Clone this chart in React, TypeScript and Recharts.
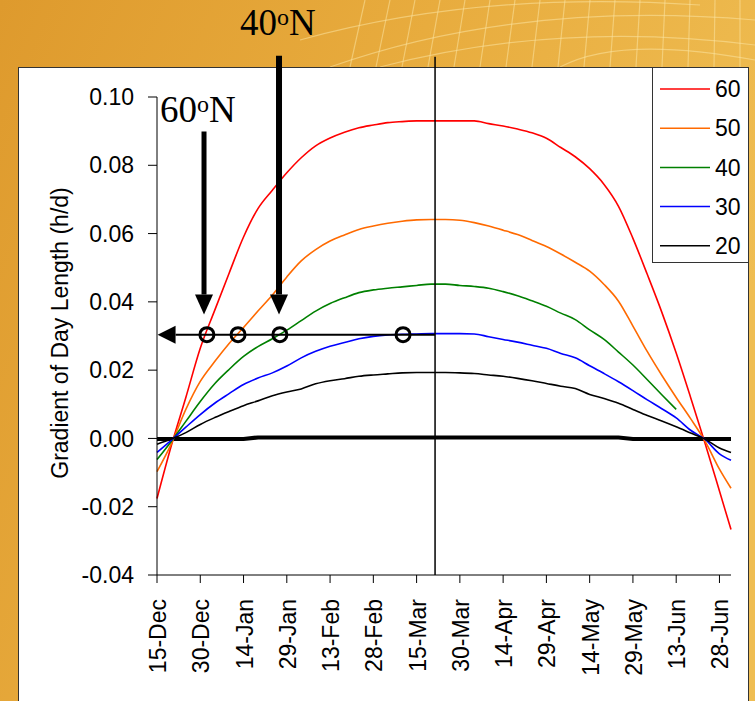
import React from 'react';
import { LineChart, Line, XAxis, YAxis, ReferenceLine, ReferenceDot } from 'recharts';

// days after 15-Dec
const days = [0, 5, 10, 15, 20, 25, 30, 35, 40, 45, 50, 55, 60, 65, 70, 75, 80, 85, 90, 95, 100,
  105, 110, 115, 120, 125, 130, 135, 140, 145, 150, 155, 160, 165, 170, 175, 180, 185, 190, 195, 199];

const tickDays = [0, 15, 30, 45, 60, 75, 90, 105, 120, 135, 150, 165, 180, 195];
const tickLabels = ['15-Dec', '30-Dec', '14-Jan', '29-Jan', '13-Feb', '28-Feb', '15-Mar', '30-Mar',
  '14-Apr', '29-Apr', '14-May', '29-May', '13-Jun', '28-Jun'];
const yTicks = [-0.04, -0.02, 0, 0.02, 0.04, 0.06, 0.08, 0.1];

const lat60 = [-0.0176, -0.002, 0.012, 0.0264, 0.0375, 0.0484, 0.059, 0.0673, 0.0727, 0.0778, 0.0822,
  0.0857, 0.088, 0.0897, 0.091, 0.0918, 0.0925, 0.0928, 0.093, 0.093, 0.093, 0.093, 0.093, 0.0922,
  0.0915, 0.0906, 0.0895, 0.0879, 0.0852, 0.0825, 0.079, 0.0744, 0.068, 0.0586, 0.048, 0.037, 0.025,
  0.012, -0.0014, -0.0154, -0.0267];
const lat50 = [-0.0097, -0.0015, 0.0085, 0.0167, 0.0225, 0.0278, 0.0325, 0.0373, 0.042, 0.0473, 0.052,
  0.0553, 0.0578, 0.0596, 0.0612, 0.0622, 0.063, 0.0636, 0.064, 0.0641, 0.0641, 0.0639, 0.0632, 0.0622,
  0.061, 0.0597, 0.058, 0.0562, 0.054, 0.0516, 0.049, 0.0451, 0.0402, 0.0329, 0.0254, 0.0185, 0.012,
  0.0058, -0.0008, -0.009, -0.0146];
const lat40 = [-0.0062, -0.0008, 0.005, 0.0108, 0.016, 0.0202, 0.024, 0.0269, 0.0292, 0.0317, 0.0345,
  0.0373, 0.0395, 0.0412, 0.0427, 0.0435, 0.044, 0.0444, 0.0448, 0.0452, 0.0452, 0.0448, 0.0445, 0.044,
  0.043, 0.0418, 0.0403, 0.0387, 0.0367, 0.0348, 0.0318, 0.029, 0.0253, 0.0215, 0.0172, 0.0128, 0.0085,
  null, null, null, null];
const lat30 = [-0.0041, -0.0005, 0.0033, 0.007, 0.0103, 0.0131, 0.0158, 0.0177, 0.0192, 0.0212, 0.0236,
  0.0255, 0.027, 0.0281, 0.0292, 0.0299, 0.0303, 0.0305, 0.0306, 0.0307, 0.0307, 0.0307, 0.0306, 0.0298,
  0.029, 0.0282, 0.0273, 0.0264, 0.0249, 0.0236, 0.0213, 0.019, 0.0166, 0.014, 0.0113, 0.0087, 0.006,
  0.0024, -0.0003, -0.0045, -0.0064];
const lat20 = [-0.0017, -0.0002, 0.0017, 0.0041, 0.0061, 0.0079, 0.0096, 0.011, 0.0125, 0.0136, 0.0145,
  0.016, 0.0169, 0.0175, 0.0182, 0.0186, 0.0189, 0.0192, 0.0193, 0.0193, 0.0193, 0.0192, 0.019, 0.0186,
  0.0182, 0.0176, 0.0169, 0.0161, 0.0153, 0.0146, 0.0129, 0.0117, 0.0103, 0.0085, 0.0067, 0.0051, 0.0034,
  0.0016, -0.0002, -0.0028, -0.0041];
const lat0 = [-0.0002, -0.0002, -0.0002, -0.0002, -0.0002, -0.0002, -0.0002, 0.0003, 0.0003, 0.0003,
  0.0003, 0.0003, 0.0003, 0.0003, 0.0003, 0.0003, 0.0003, 0.0003, 0.0003, 0.0003, 0.0003, 0.0003, 0.0003,
  0.0003, 0.0003, 0.0003, 0.0003, 0.0003, 0.0003, 0.0003, 0.0003, 0.0003, 0.0003, -0.0002, -0.0002,
  -0.0002, -0.0002, -0.0002, -0.0002, -0.0002, -0.0002];

const series = [
  { key: 'l60', name: '60', color: '#ff0000', values: lat60 },
  { key: 'l50', name: '50', color: '#ff6a00', values: lat50 },
  { key: 'l40', name: '40', color: '#008000', values: lat40 },
  { key: 'l30', name: '30', color: '#0000ff', values: lat30 },
  { key: 'l20', name: '20', color: '#000000', values: lat20 },
];

// crossings of the 0.03 h/d line (day numbers)
const circleDays = [17.3, 28.1, 42.6, 85.3];

const data = days.map((d, i) => {
  const row: any = { day: d, l0: lat0[i] };
  series.forEach(s => { row[s.key] = s.values[i]; });
  return row;
});

const font = '"Liberation Sans", Arial, sans-serif';
const serif = '"Liberation Serif", "Times New Roman", serif';

const arrowShape = (w: number, head: number, half: number) => (p: any) => {
  const { x1, y1, x2, y2 } = p;
  const dx = x2 - x1, dy = y2 - y1;
  const len = Math.hypot(dx, dy) || 1;
  const ux = dx / len, uy = dy / len;
  const bx = x2 - ux * head, by = y2 - uy * head;
  const nx = -uy, ny = ux;
  return (
    <g>
      <line x1={x1} y1={y1} x2={bx} y2={by} stroke="#000" strokeWidth={w} />
      <polygon
        points={`${x2},${y2} ${bx + nx * half},${by + ny * half} ${bx - nx * half},${by - ny * half}`}
        fill="#000"
      />
    </g>
  );
};

const DateTick = (props: any) => {
  const { x, y, payload } = props;
  const idx = tickDays.indexOf(payload.value);
  return (
    <text
      x={x + 9}
      y={y + 14}
      transform={`rotate(-90 ${x + 9} ${y + 14})`}
      textAnchor="end"
      fontFamily={font}
      fontSize={23}
      fill="#000"
    >
      {tickLabels[idx]}
    </text>
  );
};

const Background = () => (
  <svg width={755} height={701} style={{ position: 'absolute', left: 0, top: 0 }}>
    <defs>
      <linearGradient id="bg" x1="0" y1="0" x2="1" y2="0.4">
        <stop offset="0" stopColor="#de9a2d" />
        <stop offset="0.5" stopColor="#e8ac3e" />
        <stop offset="1" stopColor="#efbd52" />
      </linearGradient>
    </defs>
    <rect x={0} y={0} width={755} height={701} fill="url(#bg)" />
    <g stroke="#fbe3a0" strokeOpacity={0.55} strokeWidth={1.2} fill="none">
      {[0, 1, 2, 3, 4, 5, 6, 7, 8, 9, 10, 11, 12, 13, 14, 15].map(i => (
        <path key={'v' + i} d={`M ${350 + i * 26} 67 L ${365 + i * 25} 0`} />
      ))}
      <path d="M 330 67 Q 520 0 755 20" />
      <path d="M 380 67 Q 560 20 755 45" />
      <path d="M 300 40 Q 480 -10 700 5" />
      <path d="M 560 67 Q 620 35 755 60" />
    </g>
    <rect x={18.5} y={67.5} width={730} height={640} fill="#fff" stroke="#333" strokeWidth={1} />
  </svg>
);

const LegendBox = () => (
  <svg width={755} height={701} style={{ position: 'absolute', left: 0, top: 0, pointerEvents: 'none' }}>
    <rect x={652.5} y={67.5} width={96} height={195} fill="#fff" stroke="#333" strokeWidth={1} />
    {series.map((s, i) => (
      <g key={s.key}>
        <line x1={660} x2={710} y1={89 + i * 39.2} y2={89 + i * 39.2} stroke={s.color} strokeWidth={1.5} />
        <text x={715} y={89 + i * 39.2} dy="0.36em" fontFamily={font} fontSize={23} fill="#000">
          {s.name}
        </text>
      </g>
    ))}
    <text x={160} y={122} fontFamily={serif} fontSize={37} fill="#000">
      60<tspan fontSize={24} dy={-10}>o</tspan><tspan dy={10}>N</tspan>
    </text>
    <text x={240} y={35} fontFamily={serif} fontSize={37} fill="#000">
      40<tspan fontSize={24} dy={-10}>o</tspan><tspan dy={10}>N</tspan>
    </text>
    <text
      x={68}
      y={333}
      transform="rotate(-90 68 333)"
      textAnchor="middle"
      fontFamily={font}
      fontSize={23}
      fill="#000"
    >
      Gradient of Day Length (h/d)
    </text>
  </svg>
);

export default function App() {
  return (
    <div style={{ position: 'absolute', left: 0, top: 0, width: 755, height: 701, overflow: 'hidden' }}>
      <Background />
      <div style={{ position: 'absolute', left: 0, top: 0 }}>
        <LineChart
          width={755}
          height={701}
          data={data}
          margin={{ top: 97, right: 24, bottom: 26, left: 0 }}
        >
          <XAxis
            dataKey="day"
            type="number"
            domain={[0, 199]}
            ticks={tickDays}
            tick={<DateTick />}
            tickSize={8}
            height={100}
            stroke="#000"
            interval={0}
          />
          <YAxis
            type="number"
            domain={[-0.04, 0.1]}
            ticks={yTicks}
            tickFormatter={(v: number) => v.toFixed(2)}
            tickSize={9}
            tickMargin={14}
            width={157}
            stroke="#000"
            tick={{ fontFamily: font, fontSize: 23, fill: '#000' }}
            interval={0}
          />
          <Line dataKey="l0" type="linear" stroke="#000" strokeWidth={4} dot={false}
            isAnimationActive={false} legendType="none" />
          {series.map(s => (
            <Line key={s.key} dataKey={s.key} name={s.name} type="monotone" stroke={s.color}
              strokeWidth={1.6} dot={false} isAnimationActive={false} />
          ))}
          <ReferenceLine
            segment={[{ x: 96.4, y: 0.1118 }, { x: 96.4, y: -0.04 }]}
            stroke="#000"
            strokeWidth={1.5}
            ifOverflow="visible"
          />
          <ReferenceLine
            segment={[{ x: 96.4, y: 0.0304 }, { x: 0.2, y: 0.0304 }]}
            ifOverflow="visible"
            shape={arrowShape(2, 18, 9)}
          />
          <ReferenceLine
            segment={[{ x: 16.3, y: 0.0899 }, { x: 16.3, y: 0.0363 }]}
            ifOverflow="visible"
            shape={arrowShape(5, 20, 9)}
          />
          <ReferenceLine
            segment={[{ x: 42.3, y: 0.1121 }, { x: 42.3, y: 0.0363 }]}
            ifOverflow="visible"
            shape={arrowShape(6, 20, 9)}
          />
          {circleDays.map(d => (
            <ReferenceDot key={d} x={d} y={0.0304} r={7} fill="none" stroke="#000" strokeWidth={3}
              ifOverflow="visible" />
          ))}
        </LineChart>
      </div>
      <LegendBox />
    </div>
  );
}
